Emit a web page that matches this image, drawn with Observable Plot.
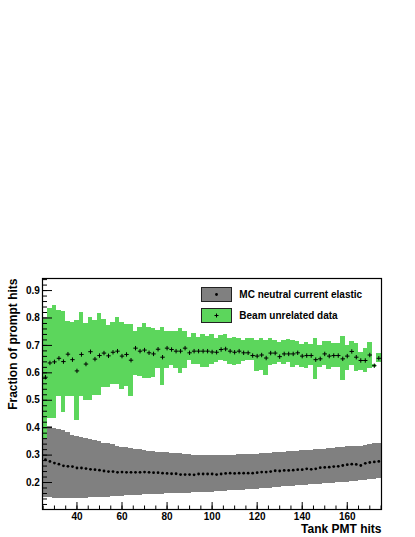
<!DOCTYPE html>
<html><head><meta charset="utf-8">
<script src="https://cdn.jsdelivr.net/npm/d3@7"></script>
<script src="https://cdn.jsdelivr.net/npm/@observablehq/plot@0.6"></script>
<style>
html,body{margin:0;padding:0;background:#fff;}
#wrap{position:relative;width:415px;height:537px;font-family:"Liberation Sans",Arial,Helvetica,sans-serif;}
#legend{position:absolute;left:0;top:0;pointer-events:none;}
</style></head><body><div id="wrap"></div>
<script>
// Bin centres of the histogram (width 2, from 25 to 175)
const binCenters = d3.range(26, 176, 2);

// MC neutral current elastic: central value, lower and upper band edges
const mcVal = [0.283,0.277,0.271,0.267,0.261,0.259,0.258,0.253,0.253,0.251,
0.248,0.247,0.245,0.242,0.240,0.240,0.237,0.238,0.237,0.237,
0.237,0.237,0.238,0.237,0.236,0.236,0.234,0.233,0.232,0.232,
0.229,0.229,0.229,0.228,0.231,0.231,0.231,0.231,0.229,0.231,
0.233,0.234,0.233,0.234,0.234,0.234,0.234,0.236,0.238,0.238,
0.240,0.243,0.242,0.244,0.244,0.245,0.247,0.247,0.250,0.248,
0.250,0.254,0.255,0.256,0.258,0.259,0.262,0.265,0.267,0.266,
0.262,0.270,0.273,0.275,0.277];
const mcHi = [0.405,0.403,0.398,0.394,0.390,0.384,0.372,0.367,0.363,0.359,
0.357,0.353,0.350,0.344,0.341,0.338,0.332,0.328,0.326,0.324,
0.322,0.319,0.316,0.314,0.313,0.311,0.310,0.308,0.306,0.305,
0.304,0.303,0.302,0.300,0.300,0.299,0.299,0.298,0.298,0.298,
0.299,0.300,0.300,0.302,0.302,0.302,0.303,0.303,0.304,0.305,
0.306,0.309,0.310,0.311,0.313,0.314,0.314,0.315,0.316,0.317,
0.319,0.320,0.321,0.324,0.325,0.326,0.328,0.330,0.331,0.331,
0.332,0.336,0.339,0.342,0.344];
const mcLo = [0.145,0.144,0.143,0.143,0.143,0.142,0.142,0.142,0.143,0.143,
0.144,0.144,0.145,0.145,0.146,0.148,0.149,0.150,0.151,0.153,
0.153,0.154,0.155,0.155,0.156,0.157,0.157,0.159,0.159,0.160,
0.160,0.161,0.161,0.162,0.162,0.163,0.163,0.165,0.166,0.167,
0.168,0.170,0.170,0.171,0.172,0.173,0.175,0.176,0.177,0.178,
0.179,0.182,0.183,0.184,0.186,0.187,0.188,0.189,0.190,0.192,
0.193,0.194,0.195,0.196,0.198,0.199,0.200,0.201,0.203,0.204,
0.206,0.209,0.210,0.212,0.213];

// Beam unrelated data: central value, lower and upper band edges
const bgVal = [0.584,0.636,0.640,0.653,0.641,0.668,0.648,0.607,0.667,0.632,
0.677,0.650,0.663,0.672,0.662,0.675,0.679,0.661,0.667,0.646,
0.690,0.679,0.683,0.673,0.669,0.686,0.657,0.690,0.685,0.679,
0.679,0.690,0.673,0.679,0.679,0.679,0.679,0.676,0.675,0.685,
0.687,0.679,0.675,0.679,0.673,0.673,0.663,0.661,0.665,0.654,
0.672,0.672,0.659,0.669,0.669,0.669,0.673,0.661,0.663,0.663,
0.648,0.651,0.669,0.661,0.663,0.663,0.651,0.661,0.678,0.657,
0.645,0.645,0.665,0.626,0.653];
const bgHi = [0.795,0.836,0.844,0.826,0.822,0.789,0.785,0.791,0.819,0.779,
0.801,0.791,0.816,0.795,0.773,0.785,0.803,0.783,0.778,0.775,
0.752,0.767,0.779,0.767,0.761,0.755,0.767,0.752,0.752,0.749,
0.763,0.749,0.730,0.742,0.730,0.739,0.734,0.740,0.727,0.736,
0.739,0.727,0.730,0.727,0.718,0.727,0.724,0.718,0.724,0.718,
0.724,0.718,0.712,0.718,0.722,0.718,0.716,0.702,0.712,0.702,
0.727,0.700,0.716,0.714,0.706,0.706,0.734,0.700,0.716,0.706,
0.675,0.687,0.712,0.632,0.672];
const bgLo = [0.360,0.433,0.433,0.514,0.455,0.514,0.514,0.425,0.514,0.500,
0.500,0.516,0.516,0.547,0.547,0.556,0.556,0.541,0.551,0.514,
0.590,0.586,0.581,0.581,0.584,0.614,0.553,0.614,0.626,0.614,
0.596,0.614,0.645,0.632,0.632,0.620,0.620,0.630,0.639,0.645,
0.641,0.632,0.626,0.632,0.641,0.645,0.645,0.604,0.608,0.590,
0.626,0.632,0.639,0.632,0.639,0.620,0.628,0.620,0.614,0.626,
0.574,0.620,0.626,0.611,0.620,0.620,0.571,0.608,0.626,0.606,
0.608,0.602,0.614,0.620,0.639];

// Axis ticks
const xMajor = [40, 60, 80, 100, 120, 140, 160];
const xMinor = d3.range(25, 176, 5);
const yMajor = [0.2, 0.3, 0.4, 0.5, 0.6, 0.7, 0.8, 0.9];
const yMinor = d3.range(12, 95, 2).map(v => v / 100);

const legendLabels = ["MC neutral current elastic", "Beam unrelated data"];
const titles = {x: "Tank PMT hits", y: "Fraction of prompt hits"};

const GRAY = "#808080", GREEN = "#5cd65c";
const binWidth = 2;
const rows = binCenters.map((x, i) => ({
  x, x1: x - binWidth / 2, x2: x + binWidth / 2,
  mc: mcVal[i], mcLo: mcLo[i], mcHi: mcHi[i],
  bg: bgVal[i], bgLo: bgLo[i], bgHi: bgHi[i]
}));

const plusSymbol = {draw(ctx, size) {
  const r = Math.sqrt(size / Math.PI);
  ctx.moveTo(-r, 0); ctx.lineTo(r, 0);
  ctx.moveTo(0, -r); ctx.lineTo(0, r);
}};

const chart = Plot.plot({
  width: 415, height: 537,
  marginLeft: 42, marginRight: 34, marginTop: 278, marginBottom: 28,
  style: {fontFamily: '"Liberation Sans", Arial, Helvetica, sans-serif', fontWeight: "bold", fontSize: "10px", background: "#fff", color: "#000"},
  x: {domain: [24.7, 175.2]},
  y: {domain: [0.1016, 0.944]},
  marks: [
    Plot.rect(rows, {x1: "x1", x2: "x2", y1: "mcLo", y2: "mcHi", fill: GRAY, shapeRendering: "crispEdges"}),
    Plot.rect(rows, {x1: "x1", x2: "x2", y1: "bgLo", y2: "bgHi", fill: GREEN, shapeRendering: "crispEdges"}),
    Plot.dot(rows, {x: "x", y: "mc", r: 1.4, fill: "#000", stroke: null}),
    Plot.dot(rows, {x: "x", y: "bg", r: 2.2, symbol: plusSymbol, stroke: "#000", fill: "none", strokeWidth: 1}),
    Plot.axisX({ticks: xMinor, tickSize: -3.5, tickFormat: () => "", label: null}),
    Plot.axisX({ticks: xMajor, tickSize: -7, tickFormat: () => "", label: null}),
    Plot.axisX({ticks: xMajor, tickSize: 0, tickPadding: 3, tickFormat: d => String(d), label: null}),
    Plot.axisY({ticks: yMinor, tickSize: -5, tickFormat: () => "", label: null}),
    Plot.axisY({ticks: yMajor, tickSize: -10, tickFormat: () => "", label: null}),
    Plot.axisY({ticks: yMajor, tickSize: 0, tickPadding: 2.7, tickFormat: d3.format(".1f"), label: null}),
    Plot.frame({stroke: "#000", strokeWidth: 1.2}),
    Plot.text([titles.x], {text: d => d, frameAnchor: "bottom-right", dy: 23, textAnchor: "end", lineAnchor: "bottom", fontSize: 12, fontWeight: "bold"}),
    Plot.text([titles.y], {text: d => d, frameAnchor: "top-left", dx: -26, rotate: -90, textAnchor: "end", lineAnchor: "bottom", fontSize: 12, fontWeight: "bold"})
  ]
});

const wrap = document.getElementById("wrap");
wrap.appendChild(chart);

// Legend (drawn as an overlay, like ROOT's TLegend inside the frame)
const NS = "http://www.w3.org/2000/svg";
const leg = document.createElementNS(NS, "svg");
leg.setAttribute("id", "legend");
leg.setAttribute("width", 415);
leg.setAttribute("height", 537);
const entries = [
  {label: legendLabels[0], fill: GRAY, marker: "dot"},
  {label: legendLabels[1], fill: GREEN, marker: "plus"}
];
entries.forEach((e, i) => {
  const top = 287.5 + i * 21;
  const r = document.createElementNS(NS, "rect");
  r.setAttribute("x", 201.5); r.setAttribute("y", top);
  r.setAttribute("width", 30); r.setAttribute("height", 14);
  r.setAttribute("fill", e.fill); r.setAttribute("stroke", "#222"); r.setAttribute("stroke-width", 1);
  leg.appendChild(r);
  const cx = 216.5, cy = top + 7;
  if (e.marker === "dot") {
    const c = document.createElementNS(NS, "circle");
    c.setAttribute("cx", cx); c.setAttribute("cy", cy); c.setAttribute("r", 1.4);
    c.setAttribute("fill", "#000");
    leg.appendChild(c);
  } else {
    const p = document.createElementNS(NS, "path");
    p.setAttribute("d", `M${cx - 2},${cy}H${cx + 2}M${cx},${cy - 2}V${cy + 2}`);
    p.setAttribute("stroke", "#000"); p.setAttribute("stroke-width", 1);
    leg.appendChild(p);
  }
  const t = document.createElementNS(NS, "text");
  t.setAttribute("x", 239.3); t.setAttribute("y", top + 10.3);
  t.setAttribute("font-family", '"Liberation Sans", Arial, Helvetica, sans-serif');
  t.setAttribute("font-weight", "bold"); t.setAttribute("font-size", 10);
  t.setAttribute("fill", "#000");
  t.textContent = e.label;
  leg.appendChild(t);
});
wrap.appendChild(leg);
</script>
</body></html>
